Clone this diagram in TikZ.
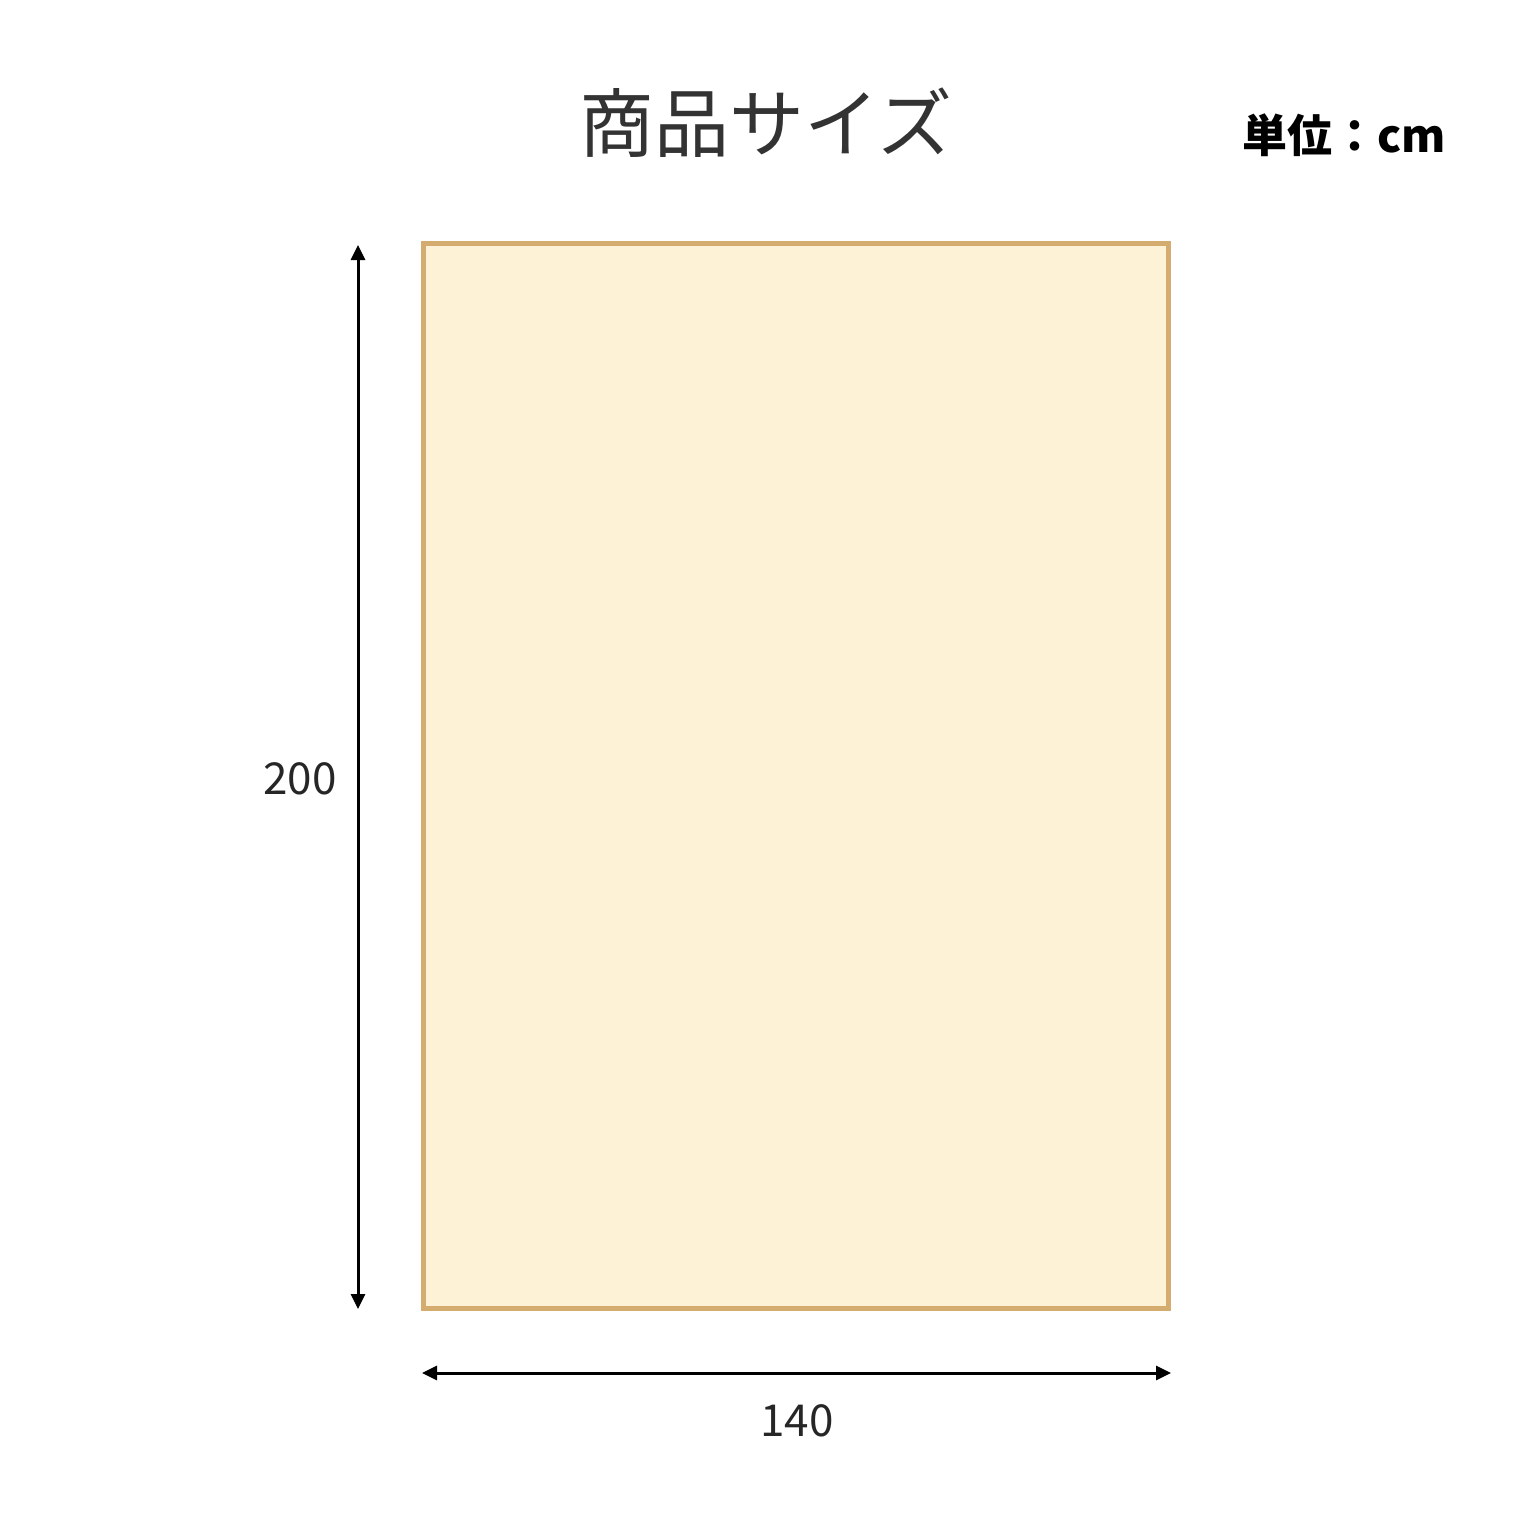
\documentclass[tikz,border=0pt]{standalone}
\usepackage{fontspec}
\newfontfamily\jp{Noto Sans CJK JP}
\usetikzlibrary{arrows.meta}
\definecolor{rimc}{HTML}{D4AC70}
\definecolor{fillc}{HTML}{FDF2D5}
\tikzset{
  dim/.style={line width=3pt, {Triangle[width=14pt,length=15pt]}-{Triangle[width=14pt,length=15pt]}},
  lbl/.style={inner sep=0pt, font=\jp\fontsize{44}{44}\selectfont, text=black!85},
}
\begin{document}
\begin{tikzpicture}[x=1pt,y=-1pt]
\useasboundingbox (0,0) rectangle (1536,1536);
\fill[white] (0,0) rectangle (1536,1536);
\node[draw=rimc, fill=fillc, line width=5pt, minimum width=745pt, minimum height=1065pt, inner sep=0pt] (sheet) at (796,776) {};
\coordinate (vt) at (358,245);
\coordinate (vb) at (358,1309);
\coordinate (hl) at (422,1373);
\coordinate (hr) at (1171,1373);
\draw[dim] (vt) -- (vb);
\draw[dim] (hl) -- (hr);
\node[lbl] (h) at (300,779) {200};
\node[lbl] (w) at (797,1421) {140};
\node[inner sep=0pt, font=\jp\fontsize{75}{75}\selectfont, text=black!80] (title) at (766,123) {商品サイズ};
\node[inner sep=0pt, anchor=east, font=\jp\bfseries\fontsize{45}{45}\selectfont] (unit) at (1446,135) {単位：cm};
\end{tikzpicture}
\end{document}
